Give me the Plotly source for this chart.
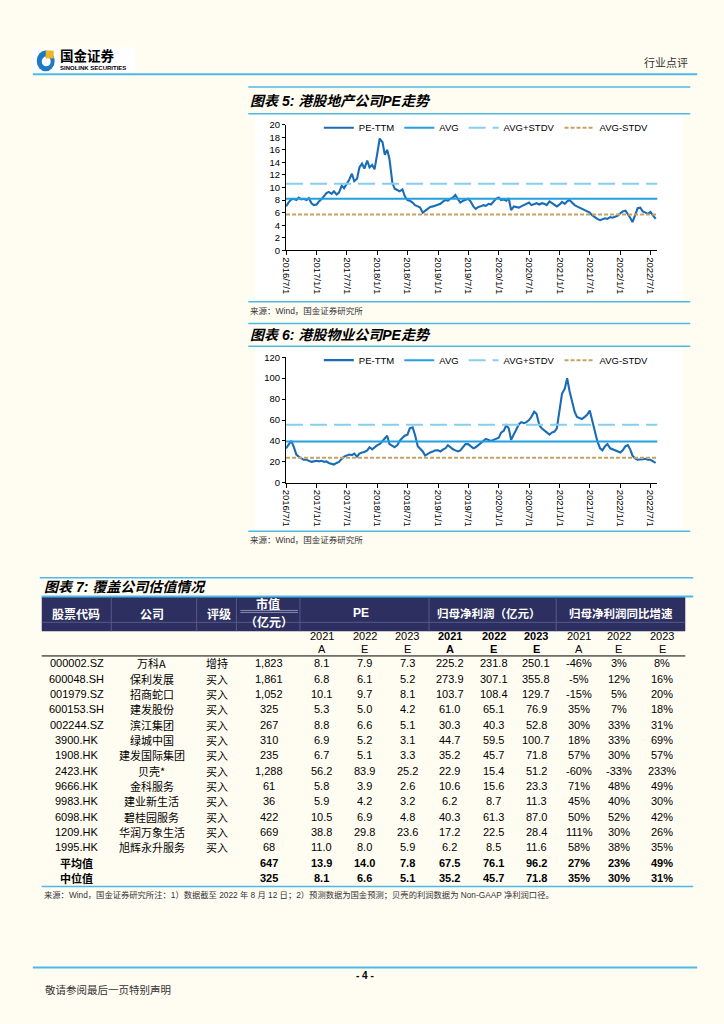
import plotly.graph_objects as go
import pandas as pd

# ---------------- DATA ----------------
dates = pd.date_range("2016-07-01", periods=147, freq="SMS")
END_DATE = "2022-08-12"
tick_dates = pd.date_range("2016-07-01", "2022-07-01", freq="6MS")
tick_labels = [f"{d.year}/{d.month}/{d.day}" for d in tick_dates]

prop_pe = [
    # 2016 H2
    7.0, 7.6, 8.1, 8.2, 8.0, 8.4, 8.1, 8.2, 8.0, 8.3, 7.5, 7.2,
    # 2017
    7.3, 7.8, 8.2, 8.6, 9.1, 9.3, 9.0, 9.4, 8.9, 9.2, 10.3, 9.9,
    10.6, 11.2, 12.2, 11.0, 11.4, 13.2, 13.8, 13.0, 14.3, 13.2, 13.6, 12.9,
    # 2018
    15.5, 17.8, 17.2, 15.2, 16.0, 14.5, 10.8, 9.8, 9.6, 9.4, 9.7, 8.6,
    8.0, 7.9, 7.6, 7.2, 7.0, 6.8, 6.0, 6.3, 6.6, 6.9, 7.0, 7.1,
    # 2019
    7.2, 7.4, 7.8, 8.0, 7.9, 8.2, 8.4, 8.8, 8.1, 7.6, 7.9, 8.1,
    8.2, 7.8, 7.0, 6.6, 6.9, 7.0, 7.2, 7.1, 7.4, 7.3, 7.8, 8.2,
    # 2020
    8.4, 8.0, 8.1, 7.9, 8.3, 6.4, 7.0, 6.9, 6.8, 7.0, 7.2, 7.4,
    7.6, 7.2, 7.4, 7.5, 7.3, 7.5, 7.4, 7.2, 7.8, 7.5, 7.2, 7.0,
    # 2021
    7.3, 7.7, 7.4, 7.8, 8.0, 7.6, 7.2, 7.0, 6.8, 6.6, 6.5, 6.3,
    6.0, 5.6, 5.2, 5.0, 4.8, 4.9, 5.1, 5.0, 5.3, 5.2, 5.4, 5.5,
    # 2022
    5.9, 6.2, 6.3, 5.8, 5.2, 4.5, 5.6, 6.7, 6.8, 6.2, 6.0, 5.8,
    6.1, 5.6, 5.0,
]
prop_avg, prop_up, prop_dn = 8.2, 10.6, 5.7

serv_pe = [
    # 2016 H2
    33, 36, 40, 35, 27, 25, 23, 22, 22, 21, 20, 20.5,
    # 2017
    21, 20.5, 21, 20, 20.5, 19, 18, 17.5, 19, 20, 23, 25,
    26, 27, 26.5, 28, 25, 28, 29, 29.5, 31, 34, 32, 34,
    # 2018
    36, 37, 40, 43, 45, 37, 35, 34, 36, 40, 43, 45,
    46, 52, 53, 46, 35, 33, 30, 26, 28, 29, 30, 31,
    # 2019
    31, 30, 32, 33, 36, 34, 32, 31, 30, 31, 34, 37,
    37, 35, 33, 34, 36, 38, 40, 42, 41, 40, 41, 42,
    # 2020
    43, 48, 50, 55, 52, 41, 47, 52, 56, 58, 57, 58,
    60, 63, 68, 66, 55, 52, 50, 49, 46, 48, 49, 52,
    # 2021
    68, 85, 90, 100, 88, 78, 68, 63, 62, 61, 63, 65,
    69, 60, 50, 40, 33, 31, 35, 37, 33, 32, 31, 30,
    # 2022
    29, 31, 35, 36, 32, 26, 23, 22, 22, 22.5, 23, 22,
    22, 21, 19,
]
serv_avg, serv_up, serv_dn = 39.5, 55.5, 24.0

series_names = ["PE-TTM", "AVG", "AVG+STDV", "AVG-STDV"]

codes = ["000002.SZ", "600048.SH", "001979.SZ", "600153.SH", "002244.SZ", "3900.HK", "1908.HK",
         "2423.HK", "9666.HK", "9983.HK", "6098.HK", "1209.HK", "1995.HK"]
names = ["万科A", "保利发展", "招商蛇口", "建发股份", "滨江集团", "绿城中国", "建发国际集团",
         "贝壳*", "金科服务", "建业新生活", "碧桂园服务", "华润万象生活", "旭辉永升服务"]
ratings = ["增持"] + ["买入"] * 12
mcap = ["1,823", "1,861", "1,052", "325", "267", "310", "235", "1,288", "61", "36", "422", "669", "68"]
pe21 = [8.1, 6.8, 10.1, 5.3, 8.8, 6.9, 6.7, 56.2, 5.8, 5.9, 10.5, 38.8, 11.0]
pe22 = [7.9, 6.1, 9.7, 5.0, 6.6, 5.2, 5.1, 83.9, 3.9, 4.2, 6.9, 29.8, 8.0]
pe23 = [7.3, 5.2, 8.1, 4.2, 5.1, 3.1, 3.3, 25.2, 2.6, 3.2, 4.8, 23.6, 5.9]
np21 = [225.2, 273.9, 103.7, 61.0, 30.3, 44.7, 35.2, 22.9, 10.6, 6.2, 40.3, 17.2, 6.2]
np22 = [231.8, 307.1, 108.4, 65.1, 40.3, 59.5, 45.7, 15.4, 15.6, 8.7, 61.3, 22.5, 8.5]
np23 = [250.1, 355.8, 129.7, 76.9, 52.8, 100.7, 71.8, 51.2, 23.3, 11.3, 87.0, 28.4, 11.6]
g21 = ["-46%", "-5%", "-15%", "35%", "30%", "18%", "57%", "-60%", "71%", "45%", "50%", "111%", "58%"]
g22 = ["3%", "12%", "5%", "7%", "33%", "33%", "30%", "-33%", "48%", "40%", "52%", "30%", "38%"]
g23 = ["8%", "16%", "20%", "18%", "31%", "69%", "57%", "233%", "49%", "30%", "42%", "26%", "35%"]
summary_labels = ["平均值", "中位值"]
summary_rows = [
    ["647", "13.9", "14.0", "7.8", "67.5", "76.1", "96.2", "27%", "23%", "49%"],
    ["325", "8.1", "6.6", "5.1", "35.2", "45.7", "71.8", "35%", "30%", "31%"],
]
year_top = ["2021", "2022", "2023"] * 3
year_bot = ["A", "E", "E"] * 3

# ---------------- STYLE ----------------
W, H = 724, 1024
BG = "#FFFCF2"
LAT = "Liberation Sans, Arial, Noto Sans CJK SC, sans-serif"
CJK = "Noto Sans CJK SC, sans-serif"
C_PE = "#1A6CB6"
C_AVG = "#22A0E2"
C_UP = "#86CDF1"
C_DN = "#C6A262"
RULE = "#4DB9E8"
NAVY = "#2C2F60"


def px(x):
    return x / W


def py(y):
    return 1 - y / H


fig = go.Figure()


def add_chart(values, avg, up, dn, xa, ya, leg):
    xs = [dates[0], pd.Timestamp(END_DATE)]
    fig.add_trace(go.Scatter(x=dates, y=values, mode="lines", name=series_names[0],
                             line=dict(color=C_PE, width=2.1), xaxis=xa, yaxis=ya, legend=leg))
    fig.add_trace(go.Scatter(x=xs, y=[avg, avg], mode="lines", name=series_names[1],
                             line=dict(color=C_AVG, width=2), xaxis=xa, yaxis=ya, legend=leg))
    fig.add_trace(go.Scatter(x=xs, y=[up, up], mode="lines", name=series_names[2],
                             line=dict(color=C_UP, width=2, dash="17px,7px"), xaxis=xa, yaxis=ya, legend=leg))
    fig.add_trace(go.Scatter(x=xs, y=[dn, dn], mode="lines", name=series_names[3],
                             line=dict(color=C_DN, width=2, dash="4px,2px"), xaxis=xa, yaxis=ya, legend=leg))


add_chart(prop_pe, prop_avg, prop_up, prop_dn, "x", "y", "legend")
add_chart(serv_pe, serv_avg, serv_up, serv_dn, "x2", "y2", "legend2")

xaxis_common = dict(
    type="date", range=[dates[0], pd.Timestamp(END_DATE)], tickmode="array",
    tickvals=list(tick_dates), ticktext=tick_labels, tickangle=90,
    ticks="outside", ticklen=4, tickcolor="black", showline=True, linecolor="black", linewidth=1,
    showgrid=False, zeroline=False, tickfont=dict(family=LAT, size=9.5, color="black"), fixedrange=True,
)
yaxis_common = dict(
    ticks="outside", ticklen=3, tickcolor="black", showline=True, linecolor="black", linewidth=1,
    showgrid=False, zeroline=False, tickfont=dict(family=LAT, size=9.5, color="black"), fixedrange=True,
)
legend_common = dict(orientation="h", xanchor="left", yanchor="middle", bgcolor="rgba(0,0,0,0)",
                     font=dict(family=LAT, size=9.5, color="black"), itemwidth=30, tracegroupgap=0)

fig.update_layout(
    width=W, height=H, margin=dict(l=0, r=0, t=0, b=0),
    paper_bgcolor=BG, plot_bgcolor="white", showlegend=True,
    xaxis=dict(domain=[px(283), px(657)], anchor="y", **xaxis_common),
    yaxis=dict(domain=[py(247), py(120)], anchor="x", range=[0, 20], dtick=2, **yaxis_common),
    xaxis2=dict(domain=[px(283), px(657)], anchor="y2", **xaxis_common),
    yaxis2=dict(domain=[py(482), py(355)], anchor="x2", range=[0, 120], dtick=20, **yaxis_common),
    legend=dict(x=px(316), y=py(123), **legend_common),
    legend2=dict(x=px(316), y=py(358), **legend_common),
)

shapes = []
annots = []


def hline(y, x0, x1, color=RULE, width=1.5):
    shapes.append(dict(type="line", xref="paper", yref="paper", x0=px(x0), x1=px(x1), y0=py(y), y1=py(y),
                       line=dict(color=color, width=width)))


def rect(x0, y0, x1, y1, fill, layer="below"):
    shapes.append(dict(type="rect", xref="paper", yref="paper", x0=px(x0), x1=px(x1), y0=py(y1), y1=py(y0),
                       fillcolor=fill, line=dict(width=0), layer=layer))


def text(x, y, s, size=11, family=LAT, color="black", xanchor="center", bold=False, italic=False):
    if bold:
        s = f"<b>{s}</b>"
    if italic:
        s = f"<i>{s}</i>"
    annots.append(dict(x=px(x), y=py(y), xref="paper", yref="paper", text=s, showarrow=False,
                       xanchor=xanchor, yanchor="middle", font=dict(size=size, family=family, color=color)))


# ---- page header ----
rect(27, 42, 131, 68, "white")
shapes.append(dict(type="circle", xref="paper", yref="paper", x0=px(32), x1=px(50), y0=py(66), y1=py(45),
                   fillcolor="#1E79C4", line=dict(width=0)))
shapes.append(dict(type="circle", xref="paper", yref="paper", x0=px(37), x1=px(46), y0=py(61), y1=py(51),
                   fillcolor="white", line=dict(width=0)))
shapes.append(dict(type="rect", xref="paper", yref="paper", x0=px(41), x1=px(49), y0=py(53), y1=py(45),
                   fillcolor="#F0B429", line=dict(width=0)))
text(53, 50, "国金证券", size=13.5, family=CJK, bold=True, xanchor="left")
text(53, 63, "SINOLINK SECURITIES", size=6, family=LAT, bold=True, xanchor="left")
text(690, 57, "行业点评", size=11, family=CJK, color="#333333", xanchor="right")
hline(69, 28, 697, width=2)

# ---- chart 5 ----
hline(82, 245, 690)
text(245, 96, "图表 5: 港股地产公司PE走势", size=14, family=LAT, bold=True, italic=True, xanchor="left")
hline(109, 245, 690)
rect(252, 111, 682, 296, "white")
hline(299, 245, 690)
text(245, 308, "来源：Wind，国金证券研究所", size=8.5, family=LAT, color="#333333", xanchor="left")

# ---- chart 6 ----
hline(321, 245, 690)
text(245, 333, "图表 6: 港股物业公司PE走势", size=14, family=LAT, bold=True, italic=True, xanchor="left")
hline(344, 245, 690)
rect(252, 346, 682, 528, "white")
hline(531, 245, 690)
text(245, 540, "来源：Wind，国金证券研究所", size=8.5, family=LAT, color="#333333", xanchor="left")

# ---- table 7 ----
hline(578, 35, 693)
text(37, 587, "图表 7: 覆盖公司估值情况", size=14, family=LAT, bold=True, italic=True, xanchor="left")
rect(37, 597, 685, 632, NAVY, layer="above")
hline(597, 37, 693, width=2)
FAINT = "#555A88"
hline(623, 37, 685, color=FAINT, width=1)
hline(611, 237, 295, color="#8A8EB0", width=1)
hline(613, 237, 295, color="#8A8EB0", width=1)
for xv in [107, 193, 233, 297, 427, 555]:
    shapes.append(dict(type="line", xref="paper", yref="paper", x0=px(xv), x1=px(xv), y0=py(632), y1=py(598),
                       line=dict(color=FAINT, width=1)))

hdr_font = 12
text(71, 614, "股票代码", size=hdr_font, family=CJK, color="white", bold=True)
text(148, 614, "公司", size=hdr_font, family=CJK, color="white", bold=True)
text(215, 614, "评级", size=hdr_font, family=CJK, color="white", bold=True)
text(265, 604, "市值", size=hdr_font, family=CJK, color="white", bold=True)
text(266, 622, "（亿元）", size=hdr_font, family=CJK, color="white", bold=True)
text(358, 614, "PE", size=12, family=LAT, color="white", bold=True)
text(487, 614, "归母净利润（亿元）", size=11.5, family=CJK, color="white", bold=True)
text(620, 614, "归母净利润同比增速", size=11.5, family=CJK, color="white", bold=True)

col_x = [72, 148, 213, 266, 319, 362, 405, 448, 492, 535, 578, 618, 662]
for i in range(9):
    b = 3 <= i < 6
    text(col_x[4 + i], 637, year_top[i], size=11, bold=b)
    text(col_x[4 + i], 649.5, year_bot[i], size=11, bold=b)
hline(657, 37, 685, color="black", width=1)

ROW0, STEP = 664.5, 15.5
for r in range(len(codes)):
    y = ROW0 + r * STEP
    cells = [codes[r], names[r], ratings[r], mcap[r],
             f"{pe21[r]:.1f}", f"{pe22[r]:.1f}", f"{pe23[r]:.1f}",
             f"{np21[r]:.1f}", f"{np22[r]:.1f}", f"{np23[r]:.1f}",
             g21[r], g22[r], g23[r]]
    for c, s in enumerate(cells):
        fam = CJK if c in (1, 2) else LAT
        text(col_x[c], y, s, size=11, family=fam)
for k, lab in enumerate(summary_labels):
    y = ROW0 + (len(codes) + k) * STEP
    text(col_x[0], y, lab, size=11, family=CJK, bold=True)
    for j, s in enumerate(summary_rows[k]):
        text(col_x[3 + j], y, s, size=11, bold=True)
hline(890, 37, 693)
text(37, 898.5, "来源：Wind，国金证券研究所注：1）数据截至 2022 年 8 月 12 日；2）预测数据为国金预测；贝壳的利润数据为 Non-GAAP 净利润口径。",
     size=8.3, family=LAT, color="#333333", xanchor="left")

# ---- footer ----
hline(972, 28, 697, width=2)
text(362, 980, "- 4 -", size=10, family=LAT, bold=True)
text(38, 994, "敬请参阅最后一页特别声明", size=10.5, family=CJK, color="#333333", xanchor="left")

fig.update_layout(shapes=shapes, annotations=annots)
fig.write_html("out.html", config={"displayModeBar": False},
               post_script="document.body.style.margin='0';document.body.style.background='#FFFCF2';")
